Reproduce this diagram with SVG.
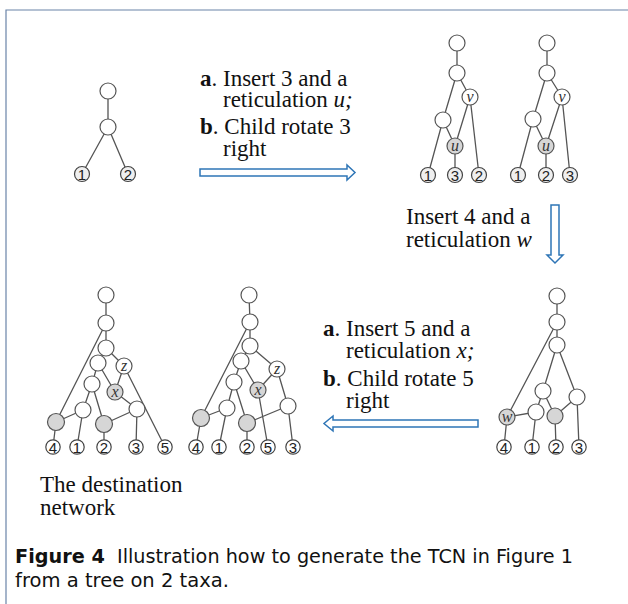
<svg xmlns="http://www.w3.org/2000/svg" width="628" height="604" viewBox="0 0 628 604">
<style>
.e{stroke:#555;stroke-width:1.3;fill:none}
.n{fill:#fff;stroke:#555;stroke-width:1.2}
.g{fill:#d6d6d6;stroke:#555;stroke-width:1.2}
.lf{fill:#fff;stroke:#444;stroke-width:1.2}
.lft{fill:#efefef;stroke:#444;stroke-width:1.2}
.d{font-family:"Liberation Sans",Arial,sans-serif;font-size:15px;fill:#222;text-anchor:middle}
.v{font-family:"Liberation Serif","Times New Roman",serif;font-style:italic;font-size:16px;fill:#333;text-anchor:middle}
.t{font-family:"Liberation Serif","Times New Roman",serif;font-size:23px;fill:#111}
.cap{font-family:"DejaVu Sans","Liberation Sans",sans-serif;font-size:19px;fill:#111}
.arr{fill:#fff;stroke:#2e75b6;stroke-width:1.5}
</style>
<rect width="628" height="604" fill="#fff"/>
<path d="M6,604 V10 H628" fill="none" stroke="#6a84a8" stroke-width="1.2"/>
<g id="connectors">
<path class="e" d="M108,91L108,127M108,127L82,174M108,127L128,174"/>
<path class="e" d="M457,43L457,73M457,73L443,120M457,73L470,97M443,120L455,146M470,97L455,146M443,120L428,175M455,146L455,175M470,97L479,175"/>
<path class="e" d="M547,43L547,73M547,73L533,119M547,73L562,97M533,119L546,146M562,97L546,146M533,119L518,175M546,146L546,175M562,97L570,175"/>
<path class="e" d="M557,296L557,322M557,322L557,345M557,322L507,417M557,345L543,391M557,345L577,397M543,391L536,412M543,391L555,416M536,412L507,417M536,412L532,447M577,397L555,416M577,397L579,447M507,417L504,447M555,416L556,447"/>
<path class="e" d="M249,295L250,322M250,322L250,346M250,322L201,418M250,346L241,361M250,346L277,369M241,361L234,382M241,361L258,390M277,369L258,390M277,369L288,406M258,390L268,447M234,382L227,408M234,382L247,423M227,408L201,418M227,408L219,447M288,406L247,423M288,406L293,447M201,418L196,447M247,423L247,447"/>
<path class="e" d="M106,295L106,323M106,323L106,348M106,323L56,422M106,348L98,363M106,348L124,366M98,363L92,384M98,363L115,392M124,366L115,392M124,366L165,447M92,384L83,410M92,384L104,424M83,410L56,422M83,410L77,447M115,392L137,409M137,409L104,424M137,409L136,447M56,422L53,447M104,424L104,447"/>
<polygon class="arr" points="200,169 347,169 347,165 355,172.5 347,180 347,176 200,176"/>
<polygon class="arr" points="551,205 559,205 559,255 563,255 555,263 547,255 551,255"/>
<polygon class="arr" points="478,420 333,420 333,416 324,423.5 333,431 333,427 478,427"/>
</g>
<g id="t0-root"><circle class="n" cx="108" cy="91" r="8"/></g>
<g id="t0-a"><circle class="n" cx="108" cy="127" r="8"/></g>
<g id="t0-1"><circle class="lft" cx="82" cy="174" r="7.5"/><text class="d" x="82" y="179.5">1</text></g>
<g id="t0-2"><circle class="lft" cx="128" cy="174" r="7.5"/><text class="d" x="128" y="179.5">2</text></g>
<g id="n1-root"><circle class="n" cx="457" cy="43" r="8"/></g>
<g id="n1-a"><circle class="n" cx="457" cy="73" r="8"/></g>
<g id="n1-v"><circle class="n" cx="470" cy="97" r="8"/><text class="v" x="470" y="101.5">v</text></g>
<g id="n1-b"><circle class="n" cx="443" cy="120" r="8"/></g>
<g id="n1-u"><circle class="g" cx="455" cy="146" r="8"/><text class="v" x="455" y="150.5">u</text></g>
<g id="n1-1"><circle class="lft" cx="428" cy="175" r="7.5"/><text class="d" x="428" y="180.5">1</text></g>
<g id="n1-3"><circle class="lft" cx="455" cy="175" r="7.5"/><text class="d" x="455" y="180.5">3</text></g>
<g id="n1-2"><circle class="lft" cx="479" cy="175" r="7.5"/><text class="d" x="479" y="180.5">2</text></g>
<g id="n2-root"><circle class="n" cx="547" cy="43" r="8"/></g>
<g id="n2-a"><circle class="n" cx="547" cy="73" r="8"/></g>
<g id="n2-v"><circle class="n" cx="562" cy="97" r="8"/><text class="v" x="562" y="101.5">v</text></g>
<g id="n2-b"><circle class="n" cx="533" cy="119" r="8"/></g>
<g id="n2-u"><circle class="g" cx="546" cy="146" r="8"/><text class="v" x="546" y="150.5">u</text></g>
<g id="n2-1"><circle class="lft" cx="518" cy="175" r="7.5"/><text class="d" x="518" y="180.5">1</text></g>
<g id="n2-2"><circle class="lft" cx="546" cy="175" r="7.5"/><text class="d" x="546" y="180.5">2</text></g>
<g id="n2-3"><circle class="lft" cx="570" cy="175" r="7.5"/><text class="d" x="570" y="180.5">3</text></g>
<g id="n3-root"><circle class="n" cx="557" cy="296" r="8"/></g>
<g id="n3-a"><circle class="n" cx="557" cy="322" r="8"/></g>
<g id="n3-c"><circle class="n" cx="557" cy="345" r="8"/></g>
<g id="n3-d"><circle class="n" cx="543" cy="391" r="8"/></g>
<g id="n3-e"><circle class="n" cx="577" cy="397" r="8"/></g>
<g id="n3-f"><circle class="n" cx="536" cy="412" r="8"/></g>
<g id="n3-w"><circle class="g" cx="507" cy="417" r="8"/><text class="v" x="507" y="421.5">w</text></g>
<g id="n3-g"><circle class="g" cx="555" cy="416" r="8"/></g>
<g id="n3-4"><circle class="lf" cx="504" cy="447" r="7.2"/><text class="d" x="504" y="452.5">4</text></g>
<g id="n3-1"><circle class="lf" cx="532" cy="447" r="7.2"/><text class="d" x="532" y="452.5">1</text></g>
<g id="n3-2"><circle class="lf" cx="556" cy="447" r="7.2"/><text class="d" x="556" y="452.5">2</text></g>
<g id="n3-3"><circle class="lf" cx="579" cy="447" r="7.2"/><text class="d" x="579" y="452.5">3</text></g>
<g id="n4-root"><circle class="n" cx="249" cy="295" r="8"/></g>
<g id="n4-a"><circle class="n" cx="250" cy="322" r="8"/></g>
<g id="n4-c"><circle class="n" cx="250" cy="346" r="8"/></g>
<g id="n4-d"><circle class="n" cx="241" cy="361" r="8"/></g>
<g id="n4-z"><circle class="n" cx="277" cy="369" r="8"/><text class="v" x="277" y="373.5">z</text></g>
<g id="n4-e"><circle class="n" cx="234" cy="382" r="8"/></g>
<g id="n4-x"><circle class="g" cx="258" cy="390" r="8"/><text class="v" x="258" y="394.5">x</text></g>
<g id="n4-f"><circle class="n" cx="227" cy="408" r="8"/></g>
<g id="n4-h"><circle class="n" cx="288" cy="406" r="8"/></g>
<g id="n4-gA"><circle class="g" cx="201" cy="418" r="8.5"/></g>
<g id="n4-gB"><circle class="g" cx="247" cy="423" r="8.5"/></g>
<g id="n4-4"><circle class="lf" cx="196" cy="447" r="7.2"/><text class="d" x="196" y="452.5">4</text></g>
<g id="n4-1"><circle class="lf" cx="219" cy="447" r="7.2"/><text class="d" x="219" y="452.5">1</text></g>
<g id="n4-2"><circle class="lf" cx="247" cy="447" r="7.2"/><text class="d" x="247" y="452.5">2</text></g>
<g id="n4-5"><circle class="lf" cx="268" cy="447" r="7.2"/><text class="d" x="268" y="452.5">5</text></g>
<g id="n4-3"><circle class="lf" cx="293" cy="447" r="7.2"/><text class="d" x="293" y="452.5">3</text></g>
<g id="n5-root"><circle class="n" cx="106" cy="295" r="8"/></g>
<g id="n5-a"><circle class="n" cx="106" cy="323" r="8"/></g>
<g id="n5-c"><circle class="n" cx="106" cy="348" r="8"/></g>
<g id="n5-d"><circle class="n" cx="98" cy="363" r="8"/></g>
<g id="n5-z"><circle class="n" cx="124" cy="366" r="8"/><text class="v" x="124" y="370.5">z</text></g>
<g id="n5-e"><circle class="n" cx="92" cy="384" r="8"/></g>
<g id="n5-x"><circle class="g" cx="115" cy="392" r="8"/><text class="v" x="115" y="396.5">x</text></g>
<g id="n5-f"><circle class="n" cx="83" cy="410" r="8"/></g>
<g id="n5-h"><circle class="n" cx="137" cy="409" r="8"/></g>
<g id="n5-gA"><circle class="g" cx="56" cy="422" r="8.5"/></g>
<g id="n5-gB"><circle class="g" cx="104" cy="424" r="8.5"/></g>
<g id="n5-4"><circle class="lf" cx="53" cy="447" r="7.2"/><text class="d" x="53" y="452.5">4</text></g>
<g id="n5-1"><circle class="lf" cx="77" cy="447" r="7.2"/><text class="d" x="77" y="452.5">1</text></g>
<g id="n5-2"><circle class="lf" cx="104" cy="447" r="7.2"/><text class="d" x="104" y="452.5">2</text></g>
<g id="n5-3"><circle class="lf" cx="136" cy="447" r="7.2"/><text class="d" x="136" y="452.5">3</text></g>
<g id="n5-5"><circle class="lf" cx="165" cy="447" r="7.2"/><text class="d" x="165" y="452.5">5</text></g>
<g id="label-step1">
<text class="t" x="200" y="86"><tspan font-weight="bold">a</tspan>. Insert 3 and a</text>
<text class="t" x="223" y="107">reticulation <tspan font-style="italic">u;</tspan></text>
<text class="t" x="200" y="134"><tspan font-weight="bold">b</tspan>. Child rotate 3</text>
<text class="t" x="223" y="156">right</text>
</g>
<g id="label-step2">
<text class="t" x="406" y="224">Insert 4 and a</text>
<text class="t" x="406" y="247">reticulation <tspan font-style="italic">w</tspan></text>
</g>
<g id="label-step3">
<text class="t" x="323" y="336"><tspan font-weight="bold">a</tspan>. Insert 5 and a</text>
<text class="t" x="346" y="358">reticulation <tspan font-style="italic">x;</tspan></text>
<text class="t" x="323" y="386"><tspan font-weight="bold">b</tspan>. Child rotate 5</text>
<text class="t" x="346" y="408">right</text>
</g>
<g id="label-dest">
<text class="t" x="40" y="492">The destination</text>
<text class="t" x="40" y="515">network</text>
</g>
<g id="caption">
<text class="cap" x="15" y="563" textLength="558" lengthAdjust="spacingAndGlyphs"><tspan font-weight="bold">Figure 4</tspan><tspan dx="6"> Illustration how to generate the TCN in Figure 1</tspan></text>
<text class="cap" x="15" y="587" textLength="214" lengthAdjust="spacingAndGlyphs">from a tree on 2 taxa.</text>
</g>
</svg>
